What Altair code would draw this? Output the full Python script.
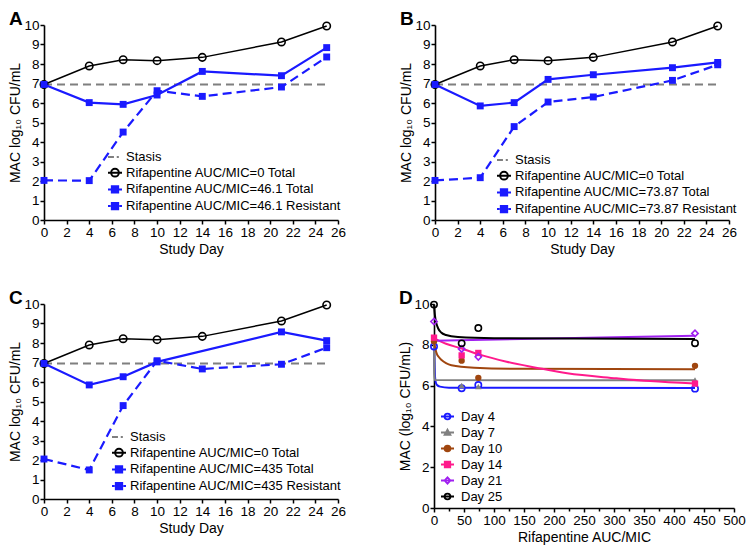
import altair as alt
import pandas as pd

FONT = "Liberation Sans"
BLUE = "#1a1aff"

# ---- Panels A-C : time course ----
DAYS = [0, 4, 7, 10, 14, 21, 25]
CONTROL = [6.95, 7.90, 8.22, 8.17, 8.34, 9.13, 9.95]
STASIS_X = [0, 25]
STASIS_Y = [6.95, 6.95]

A_TOTAL_DAYS = [0, 4, 7, 10, 14, 21, 25]
A_TOTAL = [6.95, 6.02, 5.93, 6.41, 7.62, 7.40, 8.84]
A_RES = [2.03, 2.02, 4.51, 6.63, 6.34, 6.82, 8.36]

B_TOTAL_DAYS = [0, 4, 7, 10, 14, 21, 25]
B_TOTAL = [6.95, 5.85, 6.02, 7.21, 7.45, 7.81, 8.08]
B_RES = [2.03, 2.17, 4.79, 6.05, 6.31, 7.16, 7.96]

C_TOTAL_DAYS = [0, 4, 7, 10, 21, 25]
C_TOTAL = [6.95, 5.85, 6.27, 7.03, 8.57, 8.12]
C_RES = [2.05, 1.49, 4.79, 7.09, 6.67, 6.91, 7.76]

X_TICKS = list(range(0, 27, 2))
Y_TICKS = list(range(0, 11))

# ---- Panel D : exposure response ----
AUC = [0, 46.1, 73.87, 435]
D_DAYS = ["Day 4", "Day 7", "Day 10", "Day 14", "Day 21", "Day 25"]
D_POINTS = {
    "Day 4": [7.92, 5.87, 6.03, 5.85],
    "Day 7": [8.20, 6.00, 5.95, 6.27],
    "Day 10": [8.17, 7.22, 6.38, 6.97],
    "Day 14": [8.35, 7.48, 7.60, 6.10],
    "Day 21": [9.14, 7.80, 7.41, 8.56],
    "Day 25": [9.97, 8.07, 8.82, 8.08],
}
# fitted curves
D_CURVE_X = {
    "Day 4": [0, 0.5, 1, 1.8, 3, 5, 10, 25, 435],
    "Day 7": [0, 0.5, 1.5, 435],
    "Day 10": [0, 2, 4.4, 8, 12.6, 20, 29, 67, 148, 435],
    "Day 14": [0, 20, 45, 75, 121, 170, 222, 304, 360, 435],
    "Day 21": [0, 435],
    "Day 25": [0, 1.5, 4, 7, 12, 20, 40, 100, 435],
}
D_CURVE_Y = {
    "Day 4": [7.9, 7.4, 6.9, 6.4, 6.15, 6.03, 5.95, 5.9, 5.88],
    "Day 7": [8.2, 6.6, 6.27, 6.26],
    "Day 10": [8.15, 7.85, 7.58, 7.4, 7.25, 7.1, 7.0, 6.88, 6.82, 6.8],
    "Day 14": [8.32, 8.05, 7.83, 7.53, 7.17, 6.88, 6.6, 6.36, 6.22, 6.1],
    "Day 21": [8.2, 8.44],
    "Day 25": [9.97, 9.45, 9.05, 8.8, 8.6, 8.48, 8.38, 8.32, 8.28],
}
D_X_TICKS = list(range(0, 501, 50))
D_X_MINOR = list(range(25, 500, 50))
D_Y_TICKS = [0, 2, 4, 6, 8, 10]
D_COLORS = ["#1a1aff", "#808080", "#a0460f", "#ff1a8c", "#a020f0", "#000000"]
D_SHAPES = ["circle", "triangle-up", "circle", "square", "diamond", "circle"]
D_FILLED = [False, True, True, True, False, False]

# legend symbol paths (line + marker)
P_STASIS = "M-1,0H-0.15M0.25,0H0.55"
P_CIRCLE = "M-1,0H1M0.55,0A0.55,0.55 0 1 1 -0.55,0A0.55,0.55 0 1 1 0.55,0Z"
P_SQUARE = "M-1,0H1M-0.45,-0.45H0.45V0.45H-0.45Z"
P_SQUARE_DASH = "M-1,0H-0.62M0.62,0H1M-0.45,-0.45H0.45V0.45H-0.45Z"
P_DCIRCLE = "M-1,0H1M0.45,0A0.45,0.45 0 1 1 -0.45,0A0.45,0.45 0 1 1 0.45,0Z"
P_DTRI = "M-1,0H1M0,-0.45L0.45,0.35H-0.45Z"
P_DSQ = "M-1,0H1M-0.42,-0.42H0.42V0.42H-0.42Z"
P_DDIA = "M-1,0H1M0,-0.5L0.45,0L0,0.5L-0.45,0Z"

INDEP = dict(stroke="independent", fill="independent", shape="independent")


def letter_title(t):
    return alt.TitleParams(t, anchor="start", fontSize=19, fontWeight="bold", font=FONT,
                           color="black", offset=-11)


def time_panel(letter, field, total_days, total_vals, res_vals, auc, legx, legy):
    xe = alt.X("day:Q", scale=alt.Scale(domain=[0, 26], nice=False),
               axis=alt.Axis(values=X_TICKS, title="Study Day", titlePadding=4))
    ye = alt.Y("value:Q", scale=alt.Scale(domain=[0, 10], nice=False),
               axis=alt.Axis(values=Y_TICKS, title="MAC log₁₀ CFU/mL", titlePadding=1))
    stasis = pd.DataFrame({"day": STASIS_X, "value": STASIS_Y})
    ctrl = pd.DataFrame({"day": DAYS, "value": CONTROL})
    tot = pd.DataFrame({"day": total_days, "value": total_vals})
    res = pd.DataFrame({"day": DAYS, "value": res_vals})

    labels = ["Stasis", "Rifapentine AUC/MIC=0 Total",
              f"Rifapentine AUC/MIC={auc} Total", f"Rifapentine AUC/MIC={auc} Resistant"]
    leg_df = pd.DataFrame({"day": [0] * 4, "value": [0] * 4, field: labels})
    leg = alt.Legend(title=None, orient="none", legendX=legx, legendY=legy,
                     symbolSize=196, symbolStrokeWidth=2, symbolOpacity=1,
                     labelFont=FONT, labelFontSize=13, labelColor="black",
                     rowPadding=0.7, labelOffset=3, labelLimit=400)

    layers = [
        alt.Chart(stasis).mark_line(color="#7f7f7f", strokeWidth=2, strokeDash=[8, 5]).encode(x=xe, y=ye),
        alt.Chart(ctrl).mark_line(color="black", strokeWidth=1.5).encode(x=xe, y=ye),
        alt.Chart(ctrl).mark_point(color="black", filled=False, strokeWidth=1.6, size=55, shape="circle",
                                   opacity=1).encode(x=xe, y=ye),
        alt.Chart(tot).mark_line(color=BLUE, strokeWidth=2.2).encode(x=xe, y=ye),
        alt.Chart(res).mark_line(color=BLUE, strokeWidth=2.2, strokeDash=[9, 5]).encode(x=xe, y=ye),
        alt.Chart(tot).mark_point(color=BLUE, filled=True, size=48, shape="square", opacity=1).encode(x=xe, y=ye),
        alt.Chart(res).mark_point(color=BLUE, filled=True, size=48, shape="square", opacity=1).encode(x=xe, y=ye),
        alt.Chart(leg_df).mark_point(opacity=0, filled=False, strokeWidth=2).encode(
            x=xe, y=ye,
            stroke=alt.Stroke(f"{field}:N", scale=alt.Scale(domain=labels, range=["#7f7f7f", "black", BLUE, BLUE]), legend=leg),
            fill=alt.Fill(f"{field}:N", scale=alt.Scale(domain=labels, range=["transparent", "white", BLUE, BLUE]), legend=leg),
            shape=alt.Shape(f"{field}:N", scale=alt.Scale(domain=labels, range=[P_STASIS, P_CIRCLE, P_SQUARE, P_SQUARE_DASH]), legend=leg),
        ),
    ]
    return alt.layer(*layers).properties(width=294, height=195, title=letter_title(letter))


def dose_panel():
    xscale = alt.Scale(domain=[0, 500], nice=False)
    xe = alt.X("auc:Q", scale=xscale,
               axis=alt.Axis(values=D_X_TICKS, title="Rifapentine AUC/MIC", titlePadding=4, labelOverlap=False))
    ye = alt.Y("value:Q", scale=alt.Scale(domain=[0, 10], nice=False),
               axis=alt.Axis(values=D_Y_TICKS, title="MAC (log₁₀ CFU/mL)", titlePadding=1))
    layers = []
    for i, d in enumerate(D_DAYS):
        cdf = pd.DataFrame({"auc": D_CURVE_X[d], "value": D_CURVE_Y[d]})
        layers.append(alt.Chart(cdf).mark_line(color=D_COLORS[i], strokeWidth=2, interpolate="monotone").encode(x=xe, y=ye))
    for i, d in enumerate(D_DAYS):
        pdf = pd.DataFrame({"auc": AUC, "value": D_POINTS[d]})
        layers.append(alt.Chart(pdf).mark_point(color=D_COLORS[i], filled=D_FILLED[i], shape=D_SHAPES[i],
                                                size=40, strokeWidth=1.6, opacity=1).encode(x=xe, y=ye))
    leg = alt.Legend(title=None, orient="none", legendX=6, legendY=105,
                     symbolSize=169, symbolStrokeWidth=1.8, symbolOpacity=1,
                     labelFont=FONT, labelFontSize=13, labelColor="black",
                     rowPadding=1, labelOffset=6, labelLimit=400)
    fills = [c if f else "white" for c, f in zip(D_COLORS, D_FILLED)]
    leg_df = pd.DataFrame({"auc": [0] * 6, "value": [0] * 6, "sD": D_DAYS})
    layers.append(alt.Chart(leg_df).mark_point(opacity=0, filled=False, strokeWidth=1.8).encode(
        x=xe, y=ye,
        stroke=alt.Stroke("sD:N", scale=alt.Scale(domain=D_DAYS, range=D_COLORS), legend=leg),
        fill=alt.Fill("sD:N", scale=alt.Scale(domain=D_DAYS, range=fills), legend=leg),
        shape=alt.Shape("sD:N", scale=alt.Scale(domain=D_DAYS, range=[P_DCIRCLE, P_DTRI, P_DCIRCLE, P_DSQ, P_DDIA, P_DCIRCLE]), legend=leg),
    ))
    main = alt.layer(*layers)
    minor = alt.Chart(pd.DataFrame({"auc": D_X_MINOR, "value": [0] * len(D_X_MINOR)})).mark_point(opacity=0).encode(
        x=alt.X("auc:Q", scale=xscale,
                axis=alt.Axis(values=D_X_MINOR, labels=False, domain=False, title=None, tickSize=3, orient="bottom")),
        y=ye,
    )
    return alt.layer(main, minor).resolve_axis(x="independent").properties(width=300, height=204, title=letter_title("D"))


pA = time_panel("A", "sA", A_TOTAL_DAYS, A_TOTAL, A_RES, "46.1", 63, 124)
pB = time_panel("B", "sB", B_TOTAL_DAYS, B_TOTAL, B_RES, "73.87", 61, 127)
pC = time_panel("C", "sC", C_TOTAL_DAYS, C_TOTAL, C_RES, "435", 67, 125)
pD = dose_panel()

row1 = alt.hconcat(pA, pB, spacing=53).resolve_scale(**INDEP).resolve_legend(**INDEP)
row2 = alt.hconcat(pC, pD, spacing=52).resolve_scale(**INDEP).resolve_legend(**INDEP)

chart = alt.vconcat(row1, row2, spacing=32, background="white",
                    padding={"top": 2, "left": 0, "right": 0, "bottom": 0}).resolve_scale(**INDEP).resolve_legend(**INDEP).configure_view(
    stroke=None
).configure_axis(
    grid=False, domainColor="black", domainWidth=1.6, tickColor="black", tickWidth=1.5, tickSize=4,
    labelFont=FONT, labelFontSize=13.5, labelColor="black", labelPadding=1, labelFlush=False,
    titleFont=FONT, titleFontSize=14, titleFontWeight="normal", titleColor="black",
)

chart.save("out.html", embed_options={"renderer": "svg", "actions": False})
